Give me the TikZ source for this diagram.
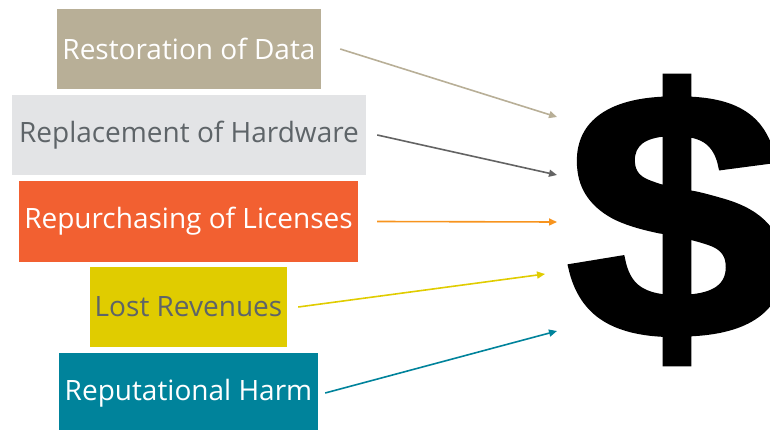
\documentclass[tikz,border=0pt]{standalone}
\usepackage{fontspec}
\setmainfont{Open Sans}
\newfontfamily\dollarfont[FakeBold=2]{Liberation Sans Bold}
\usetikzlibrary{arrows.meta}
\definecolor{datatan}{HTML}{B8AF97}
\definecolor{hwgray}{HTML}{E3E4E6}
\definecolor{licorange}{HTML}{F26031}
\definecolor{revyellow}{HTML}{E0CC00}
\definecolor{harmteal}{HTML}{00839B}
\definecolor{txtgray}{HTML}{5E6468}
\definecolor{arrgray}{HTML}{636363}
\definecolor{arrorange}{HTML}{F7941E}
\tikzset{
  box/.style={minimum height=80pt, inner sep=0pt, font=\fontsize{28}{30}\selectfont},
  cost/.style={-{Triangle[length=8pt,width=7pt]}, line width=1.6pt},
}
\begin{document}
\begin{tikzpicture}[x=1pt, y=-1pt]
    \useasboundingbox (0,0) rectangle (770,430);
    \clip (0,0) rectangle (770,430);
    \node[box, fill=datatan, text=white, minimum width=264pt] (data) at (189,49) {Restoration of Data};
    \node[box, fill=hwgray, text=txtgray, minimum width=354pt] (hardware) at (189,135) {Replacement of Hardware};
    \node[box, fill=licorange, text=white, minimum width=339pt] (licenses) at (188.5,221.5) {Repurchasing of Licenses};
    \node[box, fill=revyellow, text=txtgray, minimum width=197pt] (revenues) at (188.5,307) {Lost Revenues};
    \node[box, fill=harmteal, text=white, minimum width=259pt] (harm) at (188.5,393) {Reputational Harm};
    \node[inner sep=0pt, xscale=1.12, font=\dollarfont\fontsize{350}{350}\selectfont] (dollar) at (676,220) {\$};
    % arrow tips in front of the dollar
    \coordinate (tipdata) at (557,117);
    \coordinate (tiphw) at (557,175);
    \coordinate (tiplic) at (557,222);
    \coordinate (tiprev) at (545,274);
    \coordinate (tipharm) at (557,331);
    \draw[cost, datatan] ([xshift=19pt]data.east) -- (tipdata);
    \draw[cost, arrgray] ([xshift=11pt]hardware.east) -- (tiphw);
    \draw[cost, arrorange] ([xshift=19pt]licenses.east) -- (tiplic);
    \draw[cost, revyellow] ([xshift=11pt]revenues.east) -- (tiprev);
    \draw[cost, harmteal] ([xshift=7pt]harm.east) -- (tipharm);
\end{tikzpicture}
\end{document}
